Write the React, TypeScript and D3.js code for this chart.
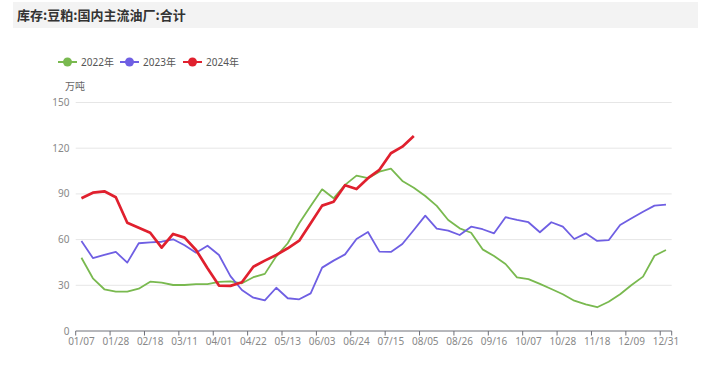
import * as d3 from "d3";
import React, { useEffect, useRef } from "react";

// weekly categories (x axis)
const weeks: string[] = [
  "01/07", "01/14", "01/21", "01/28", "02/04", "02/11", "02/18", "02/25", "03/04", "03/11",
  "03/18", "03/25", "04/01", "04/08", "04/15", "04/22", "04/29", "05/06", "05/13", "05/20",
  "05/27", "06/03", "06/10", "06/17", "06/24", "07/01", "07/08", "07/15", "07/22", "07/29",
  "08/05", "08/12", "08/19", "08/26", "09/02", "09/09", "09/16", "09/23", "09/30", "10/07",
  "10/14", "10/21", "10/28", "11/04", "11/11", "11/18", "11/25", "12/02", "12/09", "12/16",
  "12/23", "12/31",
];

const y2022: number[] = [
  48.1, 34.6, 27.4, 25.8, 25.8, 27.8, 32.4, 31.7, 30.2, 30.2,
  30.8, 30.8, 32.2, 32.6, 31.3, 35.3, 37.5, 49, 57.6, 70.7,
  82, 93, 87.1, 95.9, 102, 100.3, 104.6, 106.6, 98.5, 94.1,
  88.6, 82.1, 72.9, 67.4, 64.5, 53.6, 49.2, 44, 35.2, 34,
  30.9, 27.6, 24.1, 19.9, 17.5, 15.6, 19.2, 24.1, 30.2, 35.7,
  49.4, 53.2,
];

const y2023: number[] = [
  59.1, 47.9, 49.9, 51.9, 44.9, 57.6, 58.2, 58.6, 60.2, 56.3,
  51.4, 56, 49.9, 36, 26.9, 21.9, 20.1, 28.4, 21.5, 20.8,
  24.7, 41.6, 46.2, 50.3, 60.4, 65, 52.1, 51.9, 57.1, 66.3,
  75.7, 67.2, 65.9, 63, 68.5, 66.8, 64.1, 74.7, 72.9, 71.4,
  64.8, 71.4, 68.5, 60.4, 64.1, 59.1, 59.6, 69.6, 74, 78.3,
  82.3, 82.9,
];

const y2024: number[] = [
  87.1, 90.8, 91.7, 87.8, 71.1, 67.8, 64.5, 54.7, 63.7, 61.3,
  53.2, 41.2, 29.8, 29.6, 32, 42.2, 46.2, 49.9, 54.3, 59.3,
  70.7, 82.3, 84.9, 95.7, 93.2, 100.3, 105.8, 116.7, 121, 128,
];

const yTicks: number[] = [0, 30, 60, 90, 120, 150];

const seriesList = [
  { name: "2022年", values: y2022, color: "#79b94f", width: 1.8 },
  { name: "2023年", values: y2023, color: "#6f5fe3", width: 1.8 },
  { name: "2024年", values: y2024, color: "#e0202e", width: 2.7 },
];

const FONT = "'Noto Sans', 'Noto Sans CJK SC', sans-serif";

export default function App() {
  const svgRef = useRef<SVGSVGElement>(null);

  useEffect(() => {
    const svg = d3.select(svgRef.current);
    svg.selectAll("*").remove();

    const left = 75.7, right = 671.7, top = 102.5, bottom = 331;

    const x = d3.scaleBand<string>().domain(weeks).range([left, right]).padding(0);
    const y = d3.scaleLinear().domain([0, 150]).range([bottom, top]);
    const cx = (i: number) => (x(weeks[i]) as number) + x.bandwidth() / 2;

    // title bar
    svg.append("rect")
      .attr("x", 13).attr("y", 2).attr("width", 685).attr("height", 26)
      .attr("fill", "#f3f3f3");
    svg.append("text")
      .attr("x", 17).attr("y", 19.5)
      .attr("font-family", "'Noto Sans CJK SC', sans-serif")
      .attr("font-size", 13).attr("font-weight", "bold").attr("fill", "#333")
      .text("库存:豆粕:国内主流油厂:合计");

    // legend
    const legendX = [58, 120, 183];
    seriesList.forEach((s, k) => {
      const g = svg.append("g").attr("transform", `translate(${legendX[k]},62)`);
      g.append("line").attr("x1", 0).attr("x2", 19).attr("y1", 0).attr("y2", 0)
        .attr("stroke", s.color).attr("stroke-width", 2);
      g.append("circle").attr("cx", 9.5).attr("cy", 0).attr("r", 4.5).attr("fill", s.color);
      g.append("text").attr("x", 23).attr("y", 3.6)
        .attr("font-family", FONT).attr("font-size", 10).attr("fill", "#555")
        .text(s.name);
    });

    // unit
    svg.append("text")
      .attr("x", 75).attr("y", 89.5).attr("text-anchor", "middle")
      .attr("font-family", FONT).attr("font-size", 10).attr("fill", "#666")
      .text("万吨");

    // grid + y labels
    yTicks.forEach((t) => {
      if (t > 0) {
        svg.append("line")
          .attr("x1", left).attr("x2", right).attr("y1", y(t)).attr("y2", y(t))
          .attr("stroke", "#e6e6e6").attr("stroke-width", 1);
      }
      svg.append("text")
        .attr("x", 69.5).attr("y", y(t) + 3.5).attr("text-anchor", "end")
        .attr("font-family", FONT).attr("font-size", 10).attr("fill", "#888")
        .text(String(t));
    });

    // x axis
    svg.append("line")
      .attr("x1", left).attr("x2", right).attr("y1", bottom).attr("y2", bottom)
      .attr("stroke", "#6e7079").attr("stroke-width", 1);
    const tickIdx = d3.range(0, weeks.length, 3);
    tickIdx.forEach((i) => {
      const bx = x(weeks[i]) as number;
      svg.append("line")
        .attr("x1", bx).attr("x2", bx).attr("y1", bottom).attr("y2", bottom + 4.5)
        .attr("stroke", "#6e7079");
      svg.append("text")
        .attr("x", cx(i)).attr("y", bottom + 14).attr("text-anchor", "middle")
        .attr("font-family", FONT).attr("font-size", 10).attr("fill", "#888")
        .text(weeks[i]);
    });
    svg.append("line")
      .attr("x1", right).attr("x2", right).attr("y1", bottom).attr("y2", bottom + 4.5)
      .attr("stroke", "#6e7079");

    // lines
    const line = d3.line<number>()
      .x((_, i) => cx(i))
      .y((d) => y(d));
    seriesList.forEach((s) => {
      svg.append("path")
        .datum(s.values)
        .attr("d", line)
        .attr("fill", "none")
        .attr("stroke", s.color)
        .attr("stroke-width", s.width)
        .attr("stroke-linejoin", "round");
    });
  }, []);

  return (
    <svg
      ref={svgRef}
      width={705}
      height={386}
      style={{ position: "absolute", left: 0, top: 0, background: "#fff" }}
    />
  );
}
